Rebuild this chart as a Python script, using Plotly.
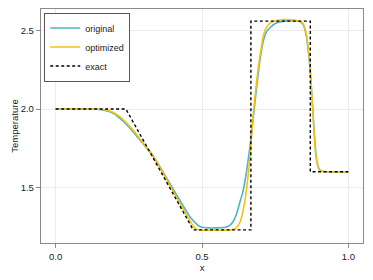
import plotly.graph_objects as go

x_opt = [0, 0.1, 0.15, 0.18, 0.2, 0.22, 0.24, 0.26, 0.28, 0.30, 0.33, 0.36, 0.40, 0.44, 0.46, 0.47,
         0.48, 0.49, 0.50, 0.55, 0.60, 0.615, 0.63, 0.645, 0.66, 0.675, 0.69, 0.70, 0.71, 0.72,
         0.735, 0.75, 0.78, 0.81, 0.83, 0.845, 0.855, 0.865, 0.872, 0.879, 0.885, 0.89, 0.895,
         0.90, 0.91, 0.93, 1.0]
y_opt = [2.0, 2.0, 1.998, 1.99, 1.975, 1.95, 1.915, 1.875, 1.83, 1.78, 1.705, 1.615, 1.48, 1.35,
         1.285, 1.255, 1.235, 1.229, 1.228, 1.228, 1.23, 1.24, 1.28, 1.40, 1.62, 1.96, 2.23, 2.36,
         2.47, 2.52, 2.55, 2.562, 2.57, 2.567, 2.56, 2.545, 2.49, 2.36, 2.19, 1.97, 1.79, 1.69,
         1.64, 1.615, 1.602, 1.60, 1.60]

x_orig = [0, 0.1, 0.15, 0.18, 0.2, 0.22, 0.24, 0.26, 0.28, 0.30, 0.33, 0.36, 0.40, 0.44, 0.46,
          0.48, 0.49, 0.50, 0.52, 0.55, 0.58, 0.595, 0.607, 0.617, 0.63, 0.64, 0.652, 0.663,
          0.675, 0.686, 0.697, 0.709, 0.72, 0.731, 0.75, 0.78, 0.81, 0.83, 0.845, 0.855, 0.865,
          0.872, 0.879, 0.885, 0.89, 0.895, 0.90, 0.91, 0.93, 1.0]
y_orig = [2.0, 2.0, 1.997, 1.985, 1.97, 1.94, 1.905, 1.865, 1.82, 1.775, 1.71, 1.62, 1.495, 1.37,
          1.31, 1.27, 1.255, 1.247, 1.243, 1.243, 1.247, 1.259, 1.285, 1.327, 1.41, 1.475, 1.60,
          1.75, 1.94, 2.13, 2.30, 2.43, 2.49, 2.516, 2.545, 2.56, 2.563, 2.56, 2.54, 2.48, 2.34,
          2.18, 1.98, 1.81, 1.70, 1.645, 1.618, 1.603, 1.60, 1.60]

x_exact = [0, 0.24, 0.47, 0.667, 0.667, 0.87, 0.87, 1.0]
y_exact = [2.0, 2.0, 1.23, 1.23, 2.56, 2.56, 1.6, 1.6]

x_ticks = [0.0, 0.5, 1.0]
x_tick_labels = ["0.0", "0.5", "1.0"]
y_ticks = [1.5, 2.0, 2.5]
y_tick_labels = ["1.5", "2.0", "2.5"]

FONT = "Liberation Sans, Arial, sans-serif"

fig = go.Figure()
fig.add_trace(go.Scatter(x=x_orig, y=y_orig, mode="lines", name="original",
                         line=dict(color="#4db4c9", width=1.6, shape="spline", smoothing=0.6)))
fig.add_trace(go.Scatter(x=x_opt, y=y_opt, mode="lines", name="optimized",
                         line=dict(color="#f7c20f", width=1.6, shape="spline", smoothing=0.6)))
fig.add_trace(go.Scatter(x=x_exact, y=y_exact, mode="lines", name="exact",
                         line=dict(color="black", width=1.4, dash="3px,2.5px")))

axis_common = dict(
    showline=True, linecolor="#8a8a8a", linewidth=1.2, mirror=True,
    showgrid=True, gridcolor="#ebebeb", gridwidth=1,
    zeroline=False, ticks="outside", ticklen=4, tickcolor="#8a8a8a", tickwidth=1,
    tickfont=dict(family=FONT, size=9.5, color="#222"),
    automargin=False,
)

fig.update_xaxes(range=[-0.05, 1.05], tickvals=x_ticks, ticktext=x_tick_labels,
                 title=dict(text="x", font=dict(family=FONT, size=9.5, color="#222"), standoff=1),
                 **axis_common)
fig.update_yaxes(range=[1.1465, 2.637], tickvals=y_ticks, ticktext=y_tick_labels,
                 title=dict(text="Temperature", font=dict(family=FONT, size=9.5, color="#222"), standoff=0),
                 **axis_common)

fig.update_layout(
    width=373, height=280,
    margin=dict(l=41, r=10, t=9, b=37, autoexpand=False),
    paper_bgcolor="white", plot_bgcolor="white",
    font=dict(family=FONT, size=9.5, color="#222"),
    showlegend=True,
    legend=dict(x=0.01, y=0.985, xanchor="left", yanchor="top",
                bgcolor="white", bordercolor="#555", borderwidth=1,
                font=dict(family=FONT, size=9, color="#222"),
                itemwidth=30, tracegroupgap=0),
)

fig.write_html("out.html", config={"displayModeBar": False, "staticPlot": True},
               post_script="document.body.style.margin='0';document.body.style.overflow='hidden';")
